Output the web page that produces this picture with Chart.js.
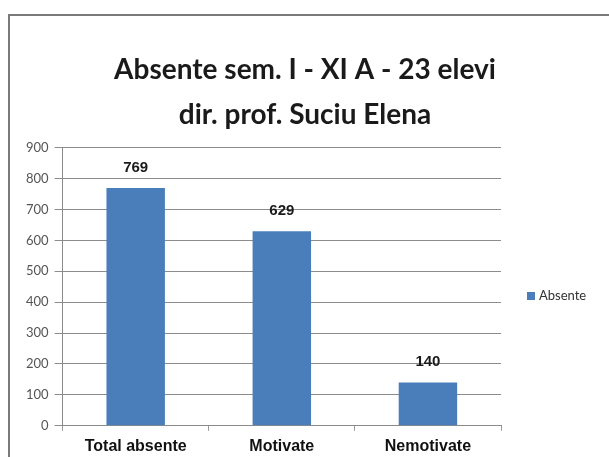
<!DOCTYPE html>
<html>
<head>
<meta charset="utf-8">
<script src="https://cdn.jsdelivr.net/npm/chart.js@4"></script>
<style>
  html, body { margin: 0; padding: 0; background: #fff; }
  #wrap { position: relative; width: 609px; height: 457px; overflow: hidden; }
  #frame {
    position: absolute; left: 8px; top: 14px; width: 640px; height: 480px;
    border-top: 2px solid #7a7a7a; border-left: 2px solid #7a7a7a;
    pointer-events: none;
  }
  canvas { position: absolute; left: 0; top: 0; }
</style>
</head>
<body>
<div id="wrap">
  <canvas id="chart" width="609" height="457"></canvas>
  <div id="frame"></div>
</div>
<script>
// categories, values and axis settings
const categories = ['Total absente', 'Motivate', 'Nemotivate'];
const absente = [769, 629, 140];
const seriesName = 'Absente';
const titleLines = ['Absente sem. I - XI A - 23 elevi', 'dir. prof. Suciu Elena'];
const yMax = 900;
const yStep = 100;

const soft = "Lato, 'Open Sans', sans-serif";
const plain = "'Liberation Sans', Arial, sans-serif";
const barColor = '#4a7ebb';

// writes the value above each bar
const valueLabels = {
  id: 'valueLabels',
  afterDatasetsDraw(chart) {
    const ctx = chart.ctx;
    ctx.save();
    ctx.font = 'bold 15px ' + plain;
    ctx.fillStyle = '#1a1a1a';
    ctx.textAlign = 'center';
    ctx.textBaseline = 'bottom';
    chart.getDatasetMeta(0).data.forEach((bar, i) => {
      ctx.fillText(String(chart.data.datasets[0].data[i]), bar.x, bar.y - 13);
    });
    ctx.restore();
  }
};

// single-entry legend in the empty column right of the plot
const sideLegend = {
  id: 'sideLegend',
  afterDraw(chart) {
    const ctx = chart.ctx;
    const area = chart.chartArea;
    const ds = chart.data.datasets[0];
    const x = area.right + 26;
    const y = 296;
    ctx.save();
    ctx.fillStyle = ds.backgroundColor;
    ctx.fillRect(x, y - 4, 8, 8);
    ctx.font = '13px ' + soft;
    ctx.fillStyle = '#333';
    ctx.textAlign = 'left';
    ctx.textBaseline = 'middle';
    ctx.fillText(ds.label, x + 12, y);
    ctx.restore();
  }
};

new Chart(document.getElementById('chart').getContext('2d'), {
  type: 'bar',
  data: {
    labels: categories,
    datasets: [{
      label: seriesName,
      data: absente,
      backgroundColor: barColor,
      borderWidth: 0,
      barPercentage: 0.4,
      categoryPercentage: 1.0
    }]
  },
  options: {
    responsive: false,
    animation: false,
    layout: { padding: { left: 20, right: 19, top: 0, bottom: -5 } },
    plugins: {
      title: {
        display: true,
        text: titleLines,
        color: '#1a1a1a',
        font: { family: soft, size: 28, weight: 'bold', lineHeight: 1.6 },
        padding: { top: 48, bottom: 10 }
      },
      legend: { display: false },
      tooltip: { enabled: false }
    },
    scales: {
      x: {
        grid: {
          display: true,
          drawOnChartArea: false,
          drawTicks: true,
          tickLength: 5,
          color: '#9a9a9a'
        },
        border: { display: true, color: '#8a8a8a' },
        ticks: {
          padding: 6,
          color: '#111',
          font: { family: plain, size: 16, weight: 'bold' }
        }
      },
      y: {
        min: 0,
        max: yMax,
        ticks: {
          stepSize: yStep,
          padding: 6,
          color: '#555',
          font: { family: soft, size: 13 }
        },
        grid: { color: '#8c8c8c', tickLength: 8 },
        border: { display: true, color: '#8a8a8a' }
      },
      // empty right-hand column that holds the legend
      side: {
        type: 'linear',
        position: 'right',
        display: true,
        grid: { display: false },
        ticks: { display: false },
        border: { display: false },
        afterFit(scale) { scale.width = 89; }
      }
    }
  },
  plugins: [valueLabels, sideLegend]
});
</script>
</body>
</html>
